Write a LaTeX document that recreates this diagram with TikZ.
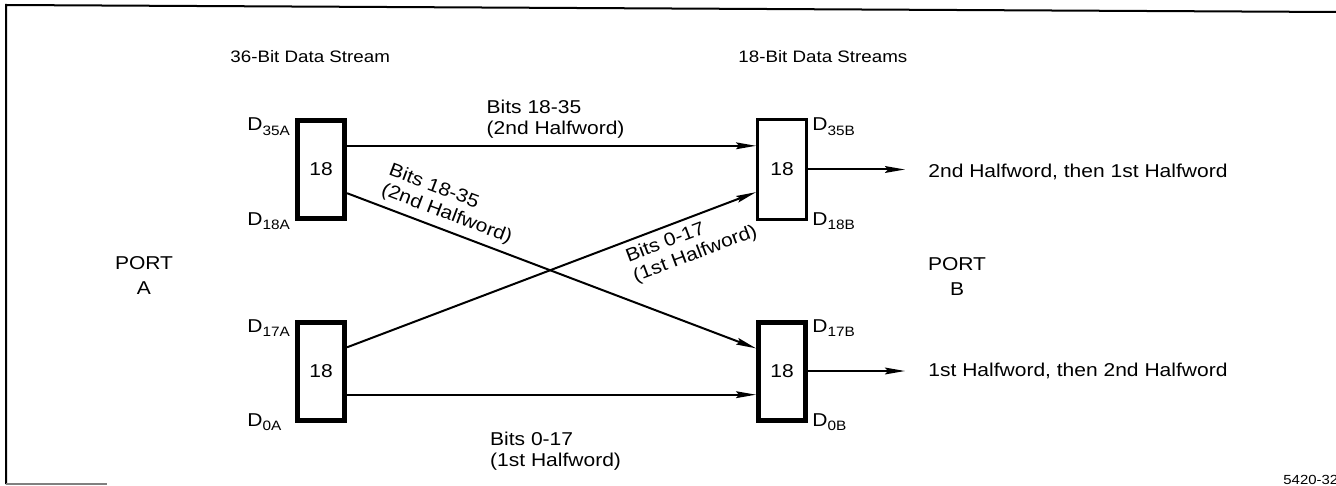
\documentclass[tikz,border=0pt]{standalone}
\usepackage{fontspec}
\setmainfont{Liberation Sans}[FakeStretch=1.13]
\usetikzlibrary{arrows.meta,calc}
\tikzset{
  reg/.style = {draw, line width=2.5pt, minimum width=23.5pt, minimum height=49pt},
  regthin/.style = {draw, line width=1.3pt, minimum width=24.7pt, minimum height=50.2pt},
  bus/.style = {line width=1pt, -{Stealth[length=10pt,width=3.4pt,inset=1.5pt]}},
  buslabel/.style = {align=left, inner sep=3pt},
  pinlabel/.style = {anchor=base west},
  heading/.style = {anchor=west, font=\fontsize{8.3}{9}\selectfont}
}
\begin{document}
\begin{tikzpicture}[x=0.5pt,y=-0.5pt,inner sep=0pt,font=\fontsize{9.3}{10.5}\selectfont]
\useasboundingbox (0,0) rectangle (1336,486);

\pgfmathsetmacro{\xA}{321}   % column of port A registers
\pgfmathsetmacro{\xB}{782}   % column of port B registers
\pgfmathsetmacro{\yH}{169.5} % upper row
\pgfmathsetmacro{\yL}{371}   % lower row

% pin name with subscript
\newcommand{\pinD}[1]{D\raisebox{-2.2pt}{\fontsize{6.8}{7}\selectfont #1}}

% frame
\draw[line width=1pt] (1336,12) -- (6,5) -- (6,484);
\draw[gray,line width=.6pt] (6,484) -- (107,484);

% registers
\node[reg] (a1) at (\xA,\yH) {18};
\node[reg] (a2) at (\xA,\yL) {18};
\node[regthin] (b1) at (\xB,\yH) {18};
\node[reg] (b2) at (\xB,\yL) {18};

% pin names
\node[pinlabel] (d35a) at ($(a1.north west)+(-48,13)$) {\pinD{35A}};
\node[pinlabel] (d18a) at ($(a1.south west)+(-48,4)$)  {\pinD{18A}};
\node[pinlabel] (d17a) at ($(a2.north west)+(-48,13)$) {\pinD{17A}};
\node[pinlabel] (d0a)  at ($(a2.south west)+(-48,4)$)  {\pinD{0A}};
\node[pinlabel] (d35b) at ($(b1.north east)+(4,13)$)   {\pinD{35B}};
\node[pinlabel] (d18b) at ($(b1.south east)+(4,4)$)    {\pinD{18B}};
\node[pinlabel] (d17b) at ($(b2.north east)+(4,13)$)   {\pinD{17B}};
\node[pinlabel] (d0b)  at ($(b2.south east)+(4,4)$)    {\pinD{0B}};

% headings and ports
\node[heading] (hda) at (230,57) {36-Bit Data Stream};
\node[heading] (hdb) at (738,57) {18-Bit Data Streams};
\node[align=center] (porta) at (144,276) {PORT\\[2pt]A};
\node[align=center] (portb) at (957,277) {PORT\\[2pt]B};

% bus lines
\draw[bus] ($(a1.north east)!.27!(a1.south east)$) -- ($(b1.north west)!.27!(b1.south west)$)
  node[buslabel,above,pos=.51] {Bits 18-35\\(2nd Halfword)};
\draw[bus] ($(a1.north east)!.73!(a1.south east)$) -- ($(b2.north west)!.28!(b2.south west)$)
  node[buslabel,sloped,above,pos=.23] {Bits 18-35\\(2nd Halfword)};
\draw[bus] ($(a2.north east)!.27!(a2.south east)$) -- ($(b1.north west)!.72!(b1.south west)$)
  node[buslabel,sloped,below,pos=.82] {Bits 0-17\\(1st Halfword)};
\draw[bus] ($(a2.north east)!.73!(a2.south east)$) -- ($(b2.north west)!.73!(b2.south west)$)
  node[buslabel,below=15pt,pos=.51] {Bits 0-17\\(1st Halfword)};

% outputs
\node[anchor=west] (out1) at ($(b1.east)+(120,2)$) {2nd Halfword, then 1st Halfword};
\node[anchor=west] (out2) at ($(b2.east)+(120,0)$) {1st Halfword, then 2nd Halfword};
\draw[bus,shorten >=11.5pt] (b1.east) -- (b1.east -| out1.west);
\draw[bus,shorten >=11.5pt] (b2.east) -- (b2.east -| out2.west);

% figure number
\node[anchor=base west,font=\fontsize{6.6}{7}\selectfont] (fignum) at (1283,484) {5420-32};
\end{tikzpicture}
\end{document}
